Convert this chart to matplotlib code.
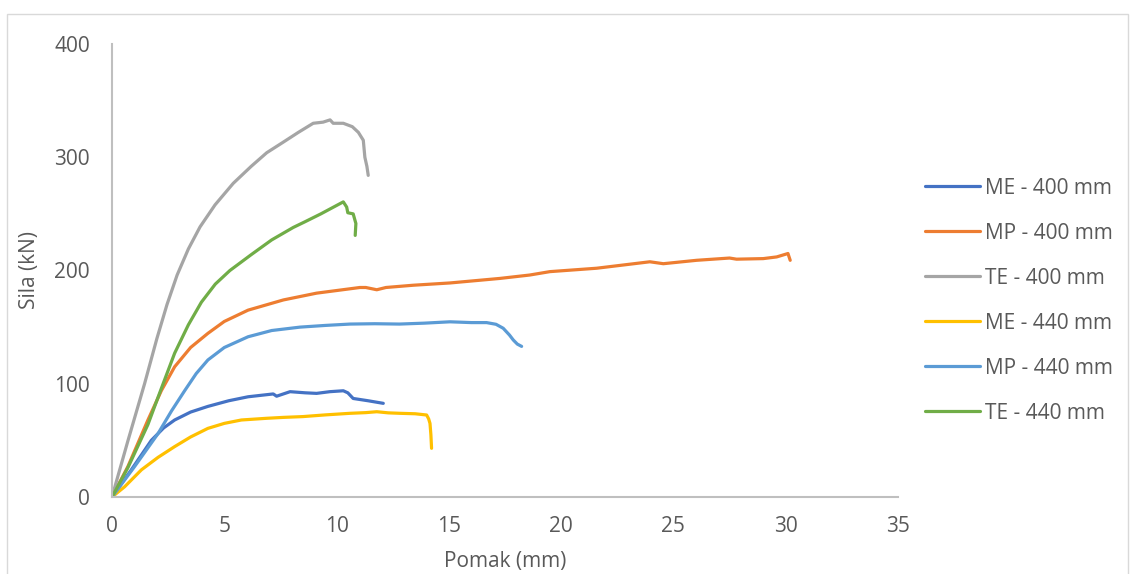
import matplotlib
matplotlib.use("Agg")
import matplotlib.pyplot as plt
from matplotlib.patches import Rectangle

plt.rcParams['font.family'] = ['Open Sans', 'DejaVu Sans']

# load-displacement readings (Pomak mm, Sila kN)
me400_x = [0, 0.86, 1.75, 2.3, 2.79, 3.5, 4.27, 5.2, 6.06, 7.18, 7.33, 7.93, 8.6, 9.11, 9.7, 10.3, 10.5, 10.74, 11.4, 12.08]
me400_y = [0, 24, 50, 61, 68, 75, 80, 85, 88.5, 91, 89, 93, 92, 91.5, 93, 93.8, 92, 87, 85, 82.7]

mp400_x = [0, 0.71, 1.6, 2.2, 2.79, 3.5, 4.27, 5.0, 6.06, 7.63, 9.11, 11.04, 11.3, 11.79, 12.2, 13.42, 15.05, 17.27,
           18.6, 19.5, 21.58, 23.95, 24.55, 26.03, 27.5, 27.81, 29.0, 29.6, 30.1, 30.2]
mp400_y = [0, 27, 68, 94, 115, 132, 144.5, 155, 165, 174, 180, 185, 185, 183, 185, 187, 189, 193,
           196, 199, 202, 207.7, 206, 209, 211, 210, 210.5, 212, 215, 209]

te400_x = [0, 0.7, 1.45, 2.0, 2.45, 2.9, 3.4, 3.92, 4.59, 5.4, 6.2, 6.89, 7.6, 8.3, 8.96, 9.4, 9.71, 9.85, 10.3, 10.7,
           10.97, 11.19, 11.26, 11.35, 11.41]
te400_y = [0, 49, 100, 140, 170, 196, 219, 238.5, 258, 277, 292, 304, 313, 322, 330, 331, 333, 330, 330, 327,
           322, 315, 300, 292, 284]

me440_x = [0, 0.56, 1.31, 2.05, 2.79, 3.5, 4.27, 5.0, 5.76, 6.89, 7.63, 8.5, 9.5, 10.6, 11.3, 11.79, 12.3, 12.82,
           13.5, 14.01, 14.1, 14.16, 14.2, 14.23]
me440_y = [0, 9, 24, 35, 44.5, 53, 60.6, 65, 68, 69.5, 70.3, 71, 72.5, 73.9, 74.5, 75.3, 74.3, 73.9,
           73.5, 72.4, 69, 65, 55, 43]

mp440_x = [0, 1.01, 2.05, 2.65, 3.24, 3.75, 4.27, 5.0, 6.06, 7.11, 8.37, 9.5, 10.6, 11.7, 12.8, 13.9, 15.05, 16.0,
           16.68, 17.1, 17.42, 17.7, 17.87, 18.05, 18.24]
mp440_y = [0, 27, 56, 76, 94, 109, 121, 132, 141.5, 147, 150, 151.5, 152.7, 153, 152.7, 153.5, 154.7, 154,
           154, 152.5, 149, 143, 138.6, 135, 133]

te440_x = [0, 0.71, 1.6, 2.2, 2.79, 3.4, 3.98, 4.6, 5.25, 6.2, 7.11, 8.07, 8.59, 9.3, 10.3, 10.45, 10.5, 10.74,
           10.86, 10.83]
te440_y = [0, 26, 64, 96, 127, 152, 172, 188, 200, 214, 227, 238, 243, 250, 260.6, 256, 251, 250,
           241.5, 231]

labels = ['ME - 400 mm', 'MP - 400 mm', 'TE - 400 mm', 'ME - 440 mm', 'MP - 440 mm', 'TE - 440 mm']
colors = ['#4472C4', '#ED7D31', '#A5A5A5', '#FFC000', '#5B9BD5', '#70AD47']
xs = [me400_x, mp400_x, te400_x, me440_x, mp440_x, te440_x]
ys = [me400_y, mp400_y, te400_y, me440_y, mp440_y, te440_y]

fs = 15
fig = plt.figure(figsize=(11.31, 5.74), dpi=100)
ax = fig.add_axes([112/1131, 77/574, 786/1131, 453/574])

for x, y, c, l in zip(xs, ys, colors, labels):
    ax.plot(x, y, color=c, lw=2.3, label=l, solid_capstyle='round', solid_joinstyle='round')

ax.set_xlim(0, 35)
ax.set_ylim(0, 400)
ax.set_xticks(range(0, 36, 5))
ax.set_yticks(range(0, 401, 100))
ax.tick_params(axis='x', length=0, labelsize=fs, labelcolor='#595959', pad=14)
ax.tick_params(axis='y', length=0, labelsize=fs, labelcolor='#595959', pad=16)
for s in ['top', 'right']:
    ax.spines[s].set_visible(False)
for s in ['left', 'bottom']:
    ax.spines[s].set_color('#BFBFBF')
    ax.spines[s].set_linewidth(1.5)

fig.text(505/1131, 1 - 562/574, 'Pomak (mm)', fontsize=fs, color='#595959', ha='center', va='center')
fig.text(30/1131, 1 - 270/574, 'Sila (kN)', fontsize=fs, color='#595959', ha='center', va='center',
         rotation=90)

fig.legend(loc='upper left', bbox_to_anchor=(906/1131, 1 - 159/574), frameon=False,
           fontsize=fs, labelcolor='#595959', handlelength=2.64, handletextpad=0.24,
           labelspacing=1.15)

fig.patches.append(Rectangle((7/1131, -0.05), 1121/1131, 1.05 - 14/574, transform=fig.transFigure,
                             fill=False, edgecolor='#D9D9D9', lw=1))

plt.savefig('out.png', dpi=100)
